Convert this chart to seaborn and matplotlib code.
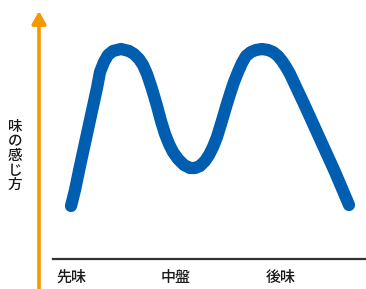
import pandas as pd
import matplotlib.pyplot as plt
import seaborn as sns

# 経過(横)と味の感じ方(縦) - 図から読み取った値
jikan = [18, 22, 27, 32, 37, 44, 47, 51, 55, 60, 68, 76, 81, 86, 90, 94, 99, 104, 108,
         112, 116, 120, 125, 131, 137, 142, 147, 152, 156, 160, 164, 168, 173, 177, 181,
         185, 189, 193, 198, 203, 209, 215, 220, 225, 229, 233, 237, 244, 252, 267, 282, 296]
kanji = [53, 69, 93, 116, 139, 171, 187, 197, 204, 208, 210, 208, 205, 200, 194, 185,
         170, 153, 138, 125, 115, 107, 100, 94, 91, 91, 93, 98, 104, 112, 122, 135, 152,
         165, 177, 187, 196, 203, 207, 209, 210, 209, 207, 203, 198, 192, 185, 170, 153,
         120, 87, 54]

x_labels = ['先味', '中盤', '後味']
x_pos = [18.5, 123, 228]
y_label = '味の感じ方'

blue = '#005EB0'
orange = '#F39800'

sns.set_theme(style='white')
plt.rcParams['font.family'] = ['Noto Sans CJK JP', 'DejaVu Sans']

fig = plt.figure(figsize=(3.66, 2.89), dpi=100)
ax = fig.add_axes([53 / 366, 30 / 289, 313 / 366, 259 / 289])

df = pd.DataFrame({'jikan': jikan, 'kanji': kanji})
sns.lineplot(data=df, x='jikan', y='kanji', ax=ax, color=blue, linewidth=8.8,
             sort=False, solid_capstyle='round', solid_joinstyle='round')

ax.set_xlim(0, 313)
ax.set_ylim(0, 259)
ax.set_xlabel('')
ax.set_ylabel('')
ax.set_yticks([])
ax.set_xticks(x_pos)
ax.set_xticklabels(x_labels, fontsize=10.8, color='#1a1a1a', fontweight='medium')
ax.tick_params(axis='x', length=0, pad=7)

for s in ['top', 'right', 'left']:
    ax.spines[s].set_visible(False)
ax.spines['bottom'].set_color('#333333')
ax.spines['bottom'].set_linewidth(1.6)

# 縦の矢印
fig.patches.append(plt.matplotlib.patches.FancyArrowPatch(
    (39 / 366, 0), (39 / 366, 1 - 11 / 289), transform=fig.transFigure,
    arrowstyle='-|>,head_width=0.42,head_length=0.75', mutation_scale=10,
    color=orange, linewidth=2.6, shrinkA=0, shrinkB=0))

fig.text(15 / 366, 1 - 156 / 289, '\n'.join(y_label), ha='center', va='center',
         fontsize=10.5, linespacing=1.05, color='#1a1a1a', fontweight='medium')

fig.savefig('out.png', dpi=100)
